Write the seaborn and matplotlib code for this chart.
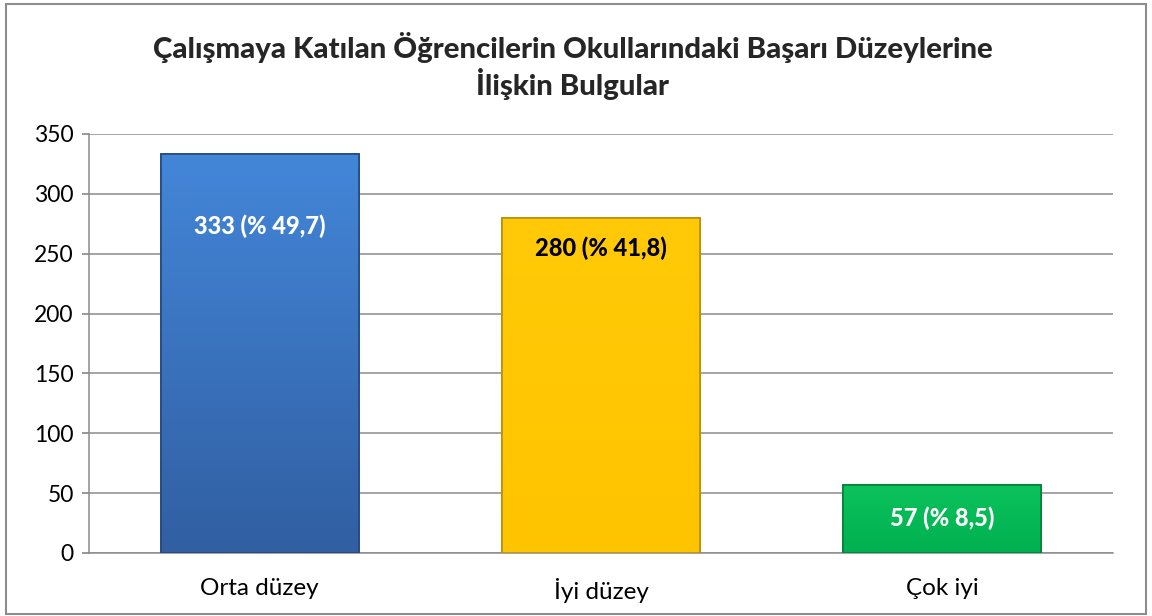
import matplotlib
matplotlib.use("Agg")
import matplotlib.pyplot as plt
import seaborn as sns
import pandas as pd
import numpy as np
from matplotlib.patches import Rectangle
from matplotlib.colors import to_rgb

categories = ["Orta düzey", "İyi düzey", "Çok iyi"]
values = [333, 280, 57]
percents = ["49,7", "41,8", "8,5"]
title = "Çalışmaya Katılan Öğrencilerin Okullarındaki Başarı Düzeylerine\nİlişkin Bulgular"

top_colors = ["#4386D8", "#FFCA08", "#0BC35C"]
bottom_colors = ["#315FA2", "#FFC400", "#00B050"]
colors = ["#3C74C2", "#FFC800", "#00B852"]
edge_colors = ["#24497F", "#B8900A", "#00823A"]
label_colors = ["white", "black", "white"]
label_drop = [60, 25, 28]

sns.set_theme(style="white")
plt.rcParams["font.family"] = ["Lato", "DejaVu Sans"]

fig = plt.figure(figsize=(11.52, 6.16), dpi=100)
fig.patch.set_facecolor("white")
fig.patches.append(Rectangle((0.005, 0.004), 0.99, 0.99, transform=fig.transFigure,
                             fill=False, edgecolor="#8C8C8C", linewidth=1.5))
ax = fig.add_axes([0.0773, 0.1023, 0.8887, 0.6802])

df = pd.DataFrame({"cat": categories, "val": values})
sns.barplot(data=df, x="cat", y="val", hue="cat", palette=colors, legend=False,
            width=0.58, saturation=1, ax=ax, zorder=3)

for p, ec, tc, bc in zip(list(ax.patches), edge_colors, top_colors, bottom_colors):
    p.set_edgecolor(ec)
    p.set_linewidth(1.2)
    x0, y0 = p.get_x(), p.get_y()
    w, h = p.get_width(), p.get_height()
    t = np.linspace(0, 1, 64)[:, None]
    grad = (1 - t) * np.array(to_rgb(tc)) + t * np.array(to_rgb(bc))
    grad = grad.reshape(64, 1, 3)
    im = ax.imshow(grad, extent=[x0, x0 + w, y0, y0 + h], aspect="auto",
                   origin="upper", zorder=3.5, interpolation="bilinear")
    im.set_clip_path(p)
    edge = Rectangle((x0, y0), w, h, fill=False, edgecolor=ec, linewidth=1.2, zorder=3.6)
    ax.add_patch(edge)

ax.set_ylim(0, 350)
ax.set_yticks(range(0, 351, 50))
ax.set_xlim(-0.5, 2.5)
ax.yaxis.grid(True, color="#8C8C8C", linewidth=1.1, zorder=0)
ax.set_axisbelow(True)
for s in ["top", "right"]:
    ax.spines[s].set_visible(False)
for s in ["left", "bottom"]:
    ax.spines[s].set_color("#8C8C8C")
    ax.spines[s].set_linewidth(1.1)
ax.tick_params(axis="y", left=True, length=5, color="#8C8C8C", labelsize=16.5, pad=6, labelcolor="black")
ax.tick_params(axis="x", bottom=False, labelsize=17.5, pad=12, labelcolor="black")
ax.set_xlabel("")
ax.set_ylabel("")

for i, (v, pc) in enumerate(zip(values, percents)):
    ax.text(i, v - label_drop[i], f"{v} (% {pc})", ha="center", va="center",
            color=label_colors[i], fontsize=17, fontweight="black", zorder=5)

fig.text(0.497, 0.893, title, ha="center", va="center", fontsize=21.2,
         fontweight="black", linespacing=1.2)

fig.savefig("out.png", dpi=100)
